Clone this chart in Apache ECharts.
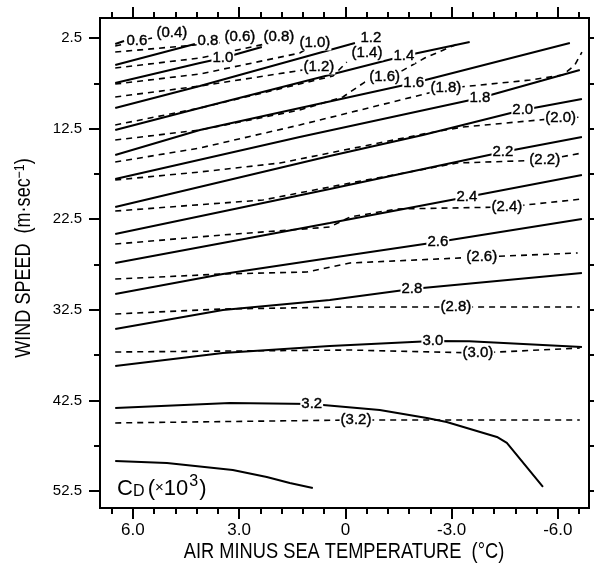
<!DOCTYPE html>
<html><head><meta charset="utf-8">
<script src="https://cdn.jsdelivr.net/npm/echarts@6/dist/echarts.min.js"></script>
<style>html,body{margin:0;padding:0;background:#fff}#c{width:595px;height:571px}</style>
</head><body><div id="c"></div>
<script>
// ---- data (air minus sea temperature °C, wind speed m/s) ----
const xTickLabels = [6, 3, 0, -3, -6];
const xMinorTicks = [6.6, 5.4, 4.8, 4.2, 3.6, 2.4, 1.8, 1.2, 0.6, -0.6, -1.2, -1.8, -2.4, -3.6, -4.2, -4.8, -5.4, -6.6];
const yTickLabels = [2.5, 12.5, 22.5, 32.5, 42.5, 52.5];
const yMinorTicks = [7.5, 17.5, 27.5, 37.5, 47.5];
const yRightTicks = [2.5, 7.5, 12.5, 17.5, 22.5, 27.5, 32.5, 37.5, 42.5, 47.5, 52.5];

// solid contours
const solidLevels = ['0.6','0.8','1.0','1.2','1.4','1.6','1.8','2.0','2.2','2.4','2.6','2.8','3.0','3.2',''];
const solidLines = [
  [[6.5,3.16],[6.25,2.83]],
  [[6.5,5.48],[4.25,3.16]],
  [[6.5,7.47],[4.11,5.26],[3.46,4.71],[2.36,3.49]],
  [[6.5,10.23],[4.11,7.80],[-0.27,3.05]],
  [[6.5,12.65],[4.11,10.23],[-1.65,4.49],[-3.51,2.94]],
  [[6.5,15.41],[4.11,12.65],[-1.93,7.47],[-6.34,3.05]],
  [[6.5,18.06],[1.29,13.43],[-3.80,9.12],[-6.62,6.03]],
  [[6.5,21.15],[0.44,15.52],[-2.19,13.21],[-5.01,10.45],[-6.68,9.23]],
  [[6.5,24.13],[0.44,19.17],[-4.45,15.08],[-6.68,13.43]],
  [[6.5,27.33],[0.44,22.92],[-3.43,20.05],[-6.68,17.62]],
  [[6.5,30.76],[3.46,28.55],[0.44,26.78],[-2.61,25.02],[-6.68,22.48]],
  [[6.5,34.62],[3.46,32.52],[0.44,31.42],[-1.88,30.20],[-6.68,28.44]],
  [[6.5,38.70],[3.46,37.27],[0.44,36.50],[-2.47,35.94],[-3.5,35.98],[-6.68,36.61]],
  [[6.5,43.34],[3.26,42.79],[0.95,42.90],[-0.97,43.56],[-2.30,44.44],[-2.86,44.88],[-4.28,46.54],[-4.56,47.20],[-5.58,52.06]],
  [[6.5,49.19],[5.04,49.41],[3.18,50.18],[2.22,50.96],[1.57,51.62],[0.92,52.17]]
];
const solidLabelAt = [
  [5.89,2.83],[3.88,2.83],[3.46,4.71],[-0.72,2.5],[-1.65,4.49],[-1.93,7.47],[-3.80,9.12],
  [-5.01,10.45],[-4.45,15.08],[-3.43,20.05],[-2.61,25.02],[-1.88,30.20],[-2.47,35.94],[0.95,42.90],null
];

// dashed contours (values in parentheses)
const dashedLevels = ['(0.4)','(0.6)','(0.8)','(1.0)','(1.2)','(1.4)','(1.6)','(1.8)','(2.0)','(2.2)','(2.4)','(2.6)','(2.8)','(3.0)','(3.2)'];
const dashedLines = [
  [[6.5,3.38],[5.46,2.5]],
  [[6.5,4.05],[3.60,3.05],[3.32,2.83]],
  [[6.5,5.81],[4.11,4.71],[2.27,3.16]],
  [[6.5,7.58],[4.11,6.47],[1.29,4.16],[1.14,3.82]],
  [[6.5,9.01],[4.11,7.80],[1.20,6.03]],
  [[6.5,12.10],[4.11,10.23],[0.35,6.69],[-0.04,5.15]],
  [[6.5,13.76],[4.11,12.65],[1.29,10.45],[0.07,9.01],[-0.55,7.36],[-1.11,6.80],[-1.54,6.25],[-2.24,4.71],[-3.23,3.05]],
  [[6.5,16.19],[4.11,14.64],[1.29,12.10],[-2.47,8.46],[-2.84,8.02],[-3.23,7.91],[-5.21,7.14],[-6.14,6.58],[-6.48,5.48],[-6.68,4.05]],
  [[6.5,18.17],[4.11,17.29],[1.85,16.30],[0.44,15.19],[-2.19,13.10],[-3.32,12.32],[-6.08,11.33],[-6.68,11.22]],
  [[6.5,21.60],[2.33,20.38],[0.16,18.73],[-3.15,16.30],[-5.63,15.97],[-6.68,15.19]],
  [[6.5,25.24],[3.46,24.24],[0.44,23.36],[-0.13,22.26],[-1.45,21.37],[-4.56,21.15],[-6.68,20.27]],
  [[6.5,29.10],[3.46,28.55],[1.09,28.33],[-0.13,27.33],[-3.85,26.67],[-6.56,26.23]],
  [[6.5,32.96],[3.46,32.41],[-0.13,32.19],[-3.12,32.19],[-6.62,32.19]],
  [[6.5,37.16],[-0.13,36.94],[-3.74,37.27],[-6.62,36.72]],
  [[6.5,44.99],[-0.30,44.66],[-6.62,44.66]]
];
const dashedLabelAt = [
  [4.90,1.95],[2.98,2.39],[1.88,2.39],[0.86,3.05],[0.75,5.70],[-0.61,4.16],[-1.11,6.80],[-2.84,8.02],
  [-6.08,11.33],[-5.63,15.97],[-4.56,21.15],[-3.85,26.67],[-3.12,32.19],[-3.74,37.27],[-0.30,44.66]
];

// ---- chart ----
const X_MIN = -6.88, X_MAX = 6.93, Y_MIN = 0.29, Y_MAX = 54.38;
const FONT = "'Liberation Sans', Arial, Helvetica, sans-serif";
const black = '#000';

function xAxisDef(pos, ticks, len, opts) {
  return Object.assign({
    type: 'value', position: pos, min: X_MIN, max: X_MAX, inverse: true,
    axisLine: {show: false, onZero: false},
    axisTick: {show: true, customValues: ticks, length: len, lineStyle: {color: black, width: 2}},
    axisLabel: {show: false},
    splitLine: {show: false}
  }, opts || {});
}
function yAxisDef(pos, ticks, len, opts) {
  return Object.assign({
    type: 'value', position: pos, min: Y_MIN, max: Y_MAX, inverse: true,
    axisLine: {show: false, onZero: false},
    axisTick: {show: true, customValues: ticks, length: len, lineStyle: {color: black, width: 2}},
    axisLabel: {show: false},
    splitLine: {show: false}
  }, opts || {});
}

const series = [];
solidLines.forEach((pts) => {
  series.push({type: 'line', data: pts, showSymbol: false, symbol: 'none', silent: true,
    lineStyle: {color: black, width: 2, type: 'solid'}, z: 2});
});
dashedLines.forEach((pts) => {
  series.push({type: 'line', data: pts, showSymbol: false, symbol: 'none', silent: true,
    lineStyle: {color: black, width: 1.6, type: [6, 5]}, z: 2});
});
const labelData = [];
solidLabelAt.forEach((p, i) => { if (p) labelData.push({name: solidLevels[i], value: p}); });
dashedLabelAt.forEach((p, i) => { if (p) labelData.push({name: dashedLevels[i], value: p}); });
series.push({
  type: 'scatter', data: labelData, symbolSize: 1, itemStyle: {color: '#ffffff', opacity: 1}, z: 5, silent: true,
  label: {show: true, position: 'inside', formatter: p => p.name, color: '#000000', fontSize: 15,
    fontFamily: FONT, backgroundColor: '#ffffff', padding: [0, 1],
    textBorderColor: '#000000', textBorderWidth: 0.4, opacity: 1}
});

const chart = echarts.init(document.getElementById('c'), null, {renderer: 'canvas'});
chart.setOption({
  animation: false,
  backgroundColor: '#fff',
  grid: {left: 100, right: 6, top: 18, bottom: 63, show: true, borderColor: black, borderWidth: 2, backgroundColor: 'transparent'},
  xAxis: [
    xAxisDef('bottom', xTickLabels, 11, {
      axisLabel: {show: true, customValues: xTickLabels, formatter: v => v === 0 ? '0' : v.toFixed(1),
        margin: 14, fontSize: 17, color: black, fontFamily: FONT}
    }),
    xAxisDef('bottom', xMinorTicks, 6),
    xAxisDef('top', xTickLabels, 11),
    xAxisDef('top', xMinorTicks, 6)
  ],
  yAxis: [
    yAxisDef('left', yTickLabels, 11, {
      axisLabel: {show: true, customValues: yTickLabels, formatter: v => v.toFixed(1),
        margin: 18, fontSize: 15, color: black, fontFamily: FONT}
    }),
    yAxisDef('left', yMinorTicks, 6),
    yAxisDef('right', yRightTicks, 5)
  ],
  graphic: [
    {
      type: 'text', x: 344, y: 552, scaleX: 0.83, z: 10,
      style: {text: 'AIR MINUS SEA TEMPERATURE  (°C)', fontSize: 22, fontFamily: FONT, fill: black,
        align: 'center', verticalAlign: 'middle', textAlign: 'center', textVerticalAlign: 'middle'}
    },
    {
      type: 'text', x: 24, y: 258, rotation: Math.PI / 2, scaleX: 0.82, z: 10,
      style: {text: 'WIND SPEED  (m·sec{sup|−1})', fontSize: 22, fontFamily: FONT, fill: black,
        align: 'center', verticalAlign: 'middle', textAlign: 'center', textVerticalAlign: 'middle',
        rich: {sup: {fontSize: 15, fontFamily: FONT, fill: black, verticalAlign: 'top', padding: [0, 0, 9, 0]}}}
    },
    {
      type: 'text', left: 117, top: 474, z: 10,
      style: {
        text: '{c|C}{d|D} {c|(}{x|×}{c|10}{s|3}{c|)}',
        rich: {
          c: {fontSize: 22, fontFamily: FONT, fill: black, verticalAlign: 'bottom'},
          d: {fontSize: 16, fontFamily: FONT, fill: black, verticalAlign: 'bottom'},
          x: {fontSize: 15, fontFamily: FONT, fill: black, verticalAlign: 'bottom', padding: [0, 0, 5, 0]},
          s: {fontSize: 16, fontFamily: FONT, fill: black, verticalAlign: 'top', padding: [0, 1, 10, 1]}
        }
      }
    }
  ],
  series: series
});
</script>
</body></html>
